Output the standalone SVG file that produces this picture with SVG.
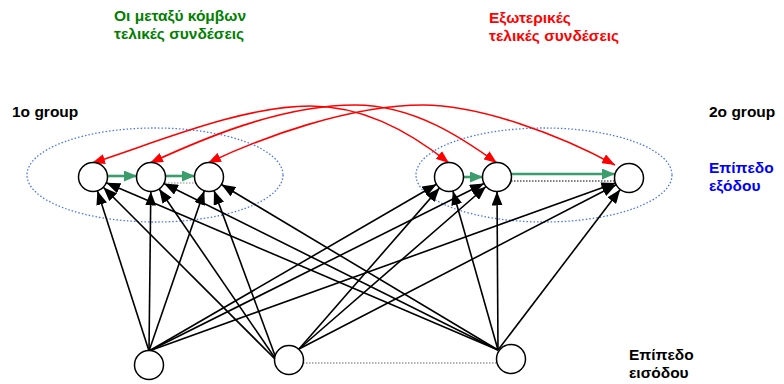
<svg xmlns="http://www.w3.org/2000/svg" width="784" height="384" viewBox="0 0 784 384">
  <style>
    .lbl { font-family: "Liberation Sans", Arial, sans-serif; font-weight: bold; font-size: 15.5px; }
    .node { fill: #fff; stroke: #000; stroke-width: 1.5; }
    .group { fill: none; stroke: #4a74f5; stroke-width: 1.3; stroke-dasharray: 1.5 2; }
    .feed { stroke: #000; stroke-width: 1.6; fill: none; marker-end: url(#ahBlack); }
    .ext { stroke: #ff0000; stroke-width: 1.6; fill: none; marker-start: url(#ahRed); marker-end: url(#ahRed); }
    .lat { stroke: #3a9d6b; stroke-width: 2.6; fill: none; marker-end: url(#ahGreen); }
    .dot { stroke-width: 1.2; stroke-dasharray: 1.5 1.5; fill: none; }
  </style>
  <defs>
    <marker id="ahBlack" markerUnits="userSpaceOnUse" markerWidth="14" markerHeight="11" refX="14" refY="5.5" orient="auto">
      <path d="M0,0 L14,5.5 L0,11 z" fill="#000"/>
    </marker>
    <marker id="ahRed" markerUnits="userSpaceOnUse" markerWidth="13" markerHeight="10" refX="13" refY="5" orient="auto-start-reverse">
      <path d="M0,0 L13,5 L0,10 z" fill="#ff0000"/>
    </marker>
    <marker id="ahGreen" markerUnits="userSpaceOnUse" markerWidth="13" markerHeight="11" refX="13" refY="5.5" orient="auto">
      <path d="M0,0 L13,5.5 L0,11 z" fill="#3a9d6b"/>
    </marker>
  </defs>

  <!-- group outlines -->
  <ellipse class="group" cx="155" cy="175" rx="128" ry="47"/>
  <ellipse class="group" cx="544" cy="175" rx="128" ry="47"/>

  <!-- labels -->
  <text class="lbl" x="114" y="21" fill="#008000">Οι μεταξύ κόμβων</text>
  <text class="lbl" x="114" y="39" fill="#008000">τελικές συνδέσεις</text>
  <text class="lbl" x="489" y="23" fill="#ff0000">Εξωτερικές</text>
  <text class="lbl" x="489" y="41" fill="#ff0000">τελικές συνδέσεις</text>
  <text class="lbl" x="12" y="117" fill="#000">1o group</text>
  <text class="lbl" x="709" y="117" fill="#000">2o group</text>
  <text class="lbl" x="709" y="173" fill="#0000ff">Επίπεδο</text>
  <text class="lbl" x="709" y="191" fill="#0000ff">εξόδου</text>
  <text class="lbl" x="629" y="360" fill="#000">Επίπεδο</text>
  <text class="lbl" x="629" y="378" fill="#000">εισόδου</text>

  <g id="connectors">
    <!-- input to output layer -->
    <line class="feed" x1="149" y1="351" x2="97.4" y2="190.8"/>
    <line class="feed" x1="149" y1="351" x2="150.8" y2="191.5"/>
    <line class="feed" x1="149" y1="351" x2="204.3" y2="190.7"/>
    <line class="feed" x1="149" y1="351" x2="436.5" y2="184.3"/>
    <line class="feed" x1="149" y1="351" x2="484" y2="183.5"/>
    <line class="feed" x1="149" y1="351" x2="615.4" y2="182.9"/>

    <line class="feed" x1="277" y1="361" x2="103.3" y2="187.3"/>
    <line class="feed" x1="277" y1="361" x2="159.2" y2="189"/>
    <line class="feed" x1="277" y1="361" x2="214" y2="190.6"/>
    <line class="feed" x1="299" y1="349" x2="439.5" y2="187.9"/>
    <line class="feed" x1="299" y1="349" x2="486" y2="186.5"/>
    <line class="feed" x1="299" y1="349" x2="616.1" y2="184.7"/>

    <line class="feed" x1="498" y1="350" x2="106.3" y2="182.7"/>
    <line class="feed" x1="498" y1="350" x2="164" y2="183.5"/>
    <line class="feed" x1="498" y1="350" x2="221.4" y2="184.5"/>
    <line class="feed" x1="498" y1="350" x2="452.9" y2="191"/>
    <line class="feed" x1="498" y1="350" x2="497" y2="191.5"/>
    <line class="feed" x1="498" y1="350" x2="620.2" y2="189.5"/>

    <!-- dotted links -->
    <line class="dot" stroke="#888" x1="165" y1="183" x2="195" y2="183"/>
    <line class="dot" stroke="#000" x1="511" y1="181" x2="614" y2="181"/>
    <line class="dot" stroke="#666" x1="303" y1="363" x2="497" y2="363"/>

    <!-- lateral links inside groups -->
    <line class="lat" x1="107" y1="176" x2="137" y2="176"/>
    <line class="lat" x1="165" y1="176" x2="195" y2="176"/>
    <line class="lat" x1="463" y1="177" x2="483" y2="177"/>
    <line class="lat" x1="511" y1="174" x2="615" y2="174"/>

    <!-- links between groups -->
    <path class="ext" d="M92,163 C150,145 240,106 310,106 C360,106 405,128 449,163"/>
    <path class="ext" d="M150,163 C200,140 280,105 355,105 C415,105 465,140 497,163"/>
    <path class="ext" d="M208,163 C260,138 350,105 423,105 C480,105 560,135 615,165"/>
  </g>

  <!-- output layer -->
  <g id="a1"><circle class="node" cx="93" cy="177" r="14.5"/></g>
  <g id="a2"><circle class="node" cx="151" cy="177" r="14.5"/></g>
  <g id="a3"><circle class="node" cx="209" cy="177" r="14.5"/></g>
  <g id="b1"><circle class="node" cx="449" cy="177" r="14.5"/></g>
  <g id="b2"><circle class="node" cx="497" cy="177" r="14.5"/></g>
  <g id="b3"><circle class="node" cx="629" cy="178" r="14.5"/></g>

  <!-- input layer -->
  <g id="i1"><circle class="node" cx="149" cy="365" r="14.5"/></g>
  <g id="i2"><circle class="node" cx="289" cy="360" r="14.5"/></g>
  <g id="i3"><circle class="node" cx="511" cy="359" r="14.5"/></g>
</svg>
